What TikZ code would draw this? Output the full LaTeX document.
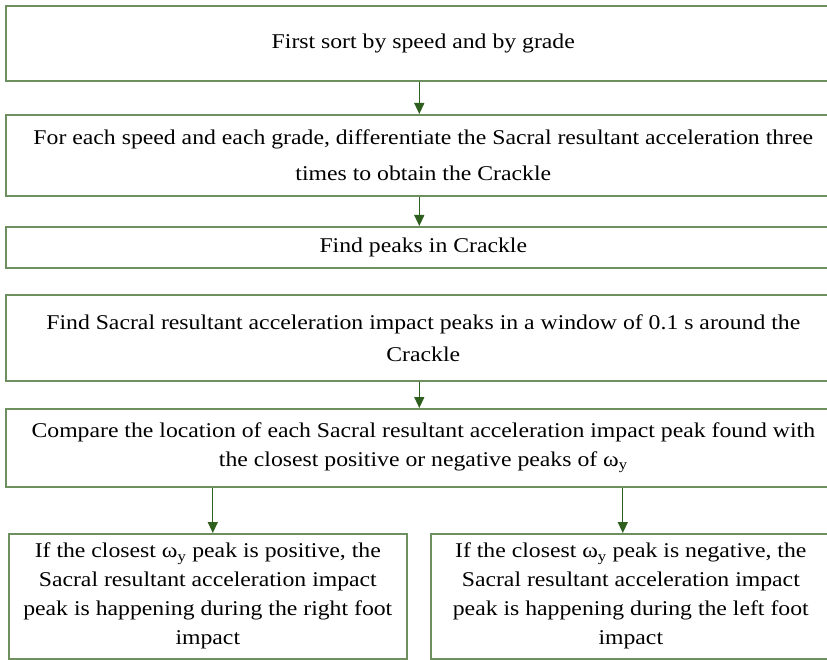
\documentclass[tikz,border=0pt]{standalone}
\usepackage{fontspec}
\setmainfont{Liberation Serif}[FakeStretch=1.13]
\usetikzlibrary{arrows.meta}

\definecolor{boxgreen}{HTML}{6E8F60}
\definecolor{arrowgreen}{HTML}{2F5F1F}

\tikzset{
	stepbox/.style={draw=boxgreen, line width=1.6pt, rectangle, anchor=north west,
		align=center, inner sep=0pt, font=\fontsize{21}{29}\selectfont},
	flow/.style={draw=arrowgreen, line width=1.3pt, -{Triangle[length=11pt,width=10pt]}}
}

\begin{document}
\begin{tikzpicture}[x=1pt,y=-1pt]
					% Fix the page to the size of the picture
					\useasboundingbox (0,0) rectangle (827,660);
					\clip (0,0) rectangle (827,660);
					
					% Draw the steps, one box under another
					\node[stepbox, minimum width=835pt, minimum height=75pt] (sort) at (5,5) {First sort by speed and by grade};
					
					\node[stepbox, minimum width=835pt, minimum height=81pt, font=\fontsize{21}{36}\selectfont] (crackle) at (5,114)
					{For each speed and each grade, differentiate the Sacral resultant acceleration three\\times to obtain the Crackle};
					
					\node[stepbox, minimum width=835pt, minimum height=41pt] (peaks) at (5,226) {Find peaks in Crackle};
					
					\node[stepbox, minimum width=835pt, minimum height=86pt, font=\fontsize{21}{32}\selectfont] (window) at (5,294)
					{Find Sacral resultant acceleration impact peaks in a window of 0.1 s around the\\Crackle};
					
					\node[stepbox, minimum width=835pt, minimum height=78pt] (compare) at (5,408)
					{Compare the location of each Sacral resultant acceleration impact peak found with\\the closest positive or negative peaks of ω\textsubscript{y}};
					
					% Draw the two outcomes side by side
					\node[stepbox, minimum width=398pt, minimum height=125pt] (rightfoot) at (8,533)
					{If the closest ω\textsubscript{y} peak is positive, the\\Sacral resultant acceleration impact\\peak is happening during the right foot\\impact};
					
					\node[stepbox, minimum width=400pt, minimum height=125pt] (leftfoot) at (430,533)
					{If the closest ω\textsubscript{y} peak is negative, the\\Sacral resultant acceleration impact\\peak is happening during the left foot\\impact};
					
					% Draw the arrows between the steps
					\draw[flow] ([xshift=-4pt]sort.south) -- ([xshift=-4pt]crackle.north);
					\draw[flow] ([xshift=-4pt]crackle.south) -- ([xshift=-4pt]peaks.north);
					\draw[flow] ([xshift=-4pt]window.south) -- ([xshift=-4pt]compare.south |- compare.north);
					\draw[flow] (compare.south -| rightfoot.north) ++(5,0) -- ([xshift=5pt]rightfoot.north);
					\draw[flow] (compare.south -| leftfoot.north) ++(-8,0) -- ([xshift=-8pt]leftfoot.north);
\end{tikzpicture}
\end{document}
